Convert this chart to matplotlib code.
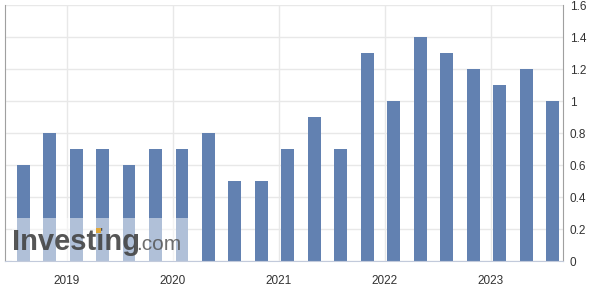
import numpy as np
import matplotlib.pyplot as plt
from matplotlib.patches import Rectangle

plt.rcParams['font.family'] = ['Liberation Sans', 'DejaVu Sans']

# quarterly values
values = [0.6, 0.8, 0.7, 0.7, 0.6, 0.7, 0.7, 0.8, 0.5, 0.5, 0.7,
          0.9, 0.7, 1.3, 1.0, 1.4, 1.3, 1.2, 1.1, 1.2, 1.0]
years = ['2019', '2020', '2021', '2022', '2023']
year_pos = [1.66, 5.66, 9.66, 13.66, 17.66]
yticks = [0, 0.2, 0.4, 0.6, 0.8, 1, 1.2, 1.4, 1.6]
ytick_labels = ['0', '0.2', '0.4', '0.6', '0.8', '1', '1.2', '1.4', '1.6']

fig = plt.figure(figsize=(6, 2.98), dpi=100)
ax = fig.add_axes([5/600, 1-261/298, 558/600, 256/298])

x = np.arange(len(values))
ax.bar(x, values, width=0.49, color='#6281b1', zorder=2)

ax.set_xlim(-0.68, 20.38)
ax.set_ylim(0, 1.6)
ax.set_yticks(yticks)
ax.set_yticklabels(ytick_labels)
ax.set_xticks(year_pos)
ax.set_xticklabels(years)
ax.yaxis.tick_right()
ax.tick_params(axis='y', length=0, pad=5, labelsize=8.5, labelcolor='#333333')
ax.tick_params(axis='x', length=0, pad=10, labelsize=8.5, labelcolor='#333333')
ax.grid(True, color='#e8e8e8', linewidth=1, zorder=0)

ax.spines['top'].set_visible(False)
ax.spines['left'].set_color('#a0a0a0')
ax.spines['right'].set_color('#a0a0a0')
ax.spines['bottom'].set_color('#c2cadb')

# watermark
fig.patches.append(Rectangle((12/600, 1-261/298), 176/600, 43/298,
                             transform=fig.transFigure, facecolor='white',
                             alpha=0.5, edgecolor='none', zorder=5))
fig.text(12/600, 1-242/298, 'Investing', fontsize=21, fontweight='bold',
         color='#444444', alpha=0.9, va='center', ha='left', zorder=6,
         family=['Liberation Sans'])
fig.text(136/600, 1-244/298, '.com', fontsize=15,
         color='#555555', alpha=0.85, va='center', ha='left', zorder=6,
         family=['Liberation Sans'])
fig.patches.append(Rectangle((96/600, 1-233/298), 5/600, 5/298,
                             transform=fig.transFigure, facecolor='#e0a83a',
                             edgecolor='none', zorder=7))

fig.savefig('out.png', dpi=100)
